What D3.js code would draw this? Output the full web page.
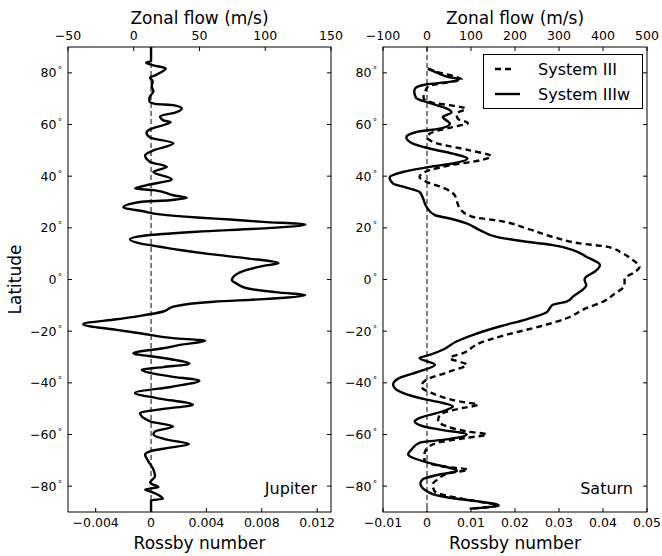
<!DOCTYPE html>
<html>
<head>
<meta charset="utf-8">
<script src="https://cdn.jsdelivr.net/npm/d3@7"></script>
<style>
  body { margin: 0; background: #fff; }
  svg { font-family: "DejaVu Sans", sans-serif; }
</style>
</head>
<body>
<svg id="chart" width="662" height="556"></svg>
<script>
// Jupiter zonal profile expressed as Rossby number vs latitude
const jupiterLat = [90, 84.5, 83.9, 82.9, 81.7, 80.0, 79.3, 78.1, 76.8, 74.8, 72.9, 70.3, 69.0, 68.0, 67.5, 66.2, 64.6, 63.2, 61.6, 61.0, 60.0,
  58.1, 56.8, 55.0, 52.7, 50.0, 48.1, 45.5, 43.6, 41.6, 38.8, 36.5, 35.2, 34.6, 32.6, 31.6, 30.7, 30.0, 27.9, 26.4, 25.2, 24.0, 23.2, 22.3, 21.3,
  19.8, 18.5, 17.2, 15.5, 14.0, 12.7, 11.4, 9.8, 8.2, 6.3, 5.3, 3.7, 1.7, -0.2, -1.7, -3.4, -5.1, -6.0, -7.6, -8.6, -10.5, -12.4, -14.1, -15.4,
  -17.3, -19.5, -20.8, -22.7, -23.7, -25.3, -26.6, -28.5, -30.4, -32.6, -33.9, -34.9, -37.5, -39.2, -41.4, -43.9, -45.9, -48.5, -50.1, -51.7,
  -54.9, -56.9, -58.8, -60.0, -62.0, -63.7, -65.2, -66.5, -67.8, -70.3, -73.6, -76.1, -78.7, -80.4, -81.3, -82.5, -84.9, -85.5, -90];
const jupiterRo = [0, 0, -0.00036, 0.00017, 0.00106, 0.00065, 0.00041, -0.00007, 0.00012, 0.00005, 0.00017, -0.00012, -0.00012, 0.00029, 0.00161, 0.00222, 0.00174, 0.00065, 0.00089, 0.00141, 0.00101,
  -0.00007, -0.00033, -0.00007, 0.00161, 0.00017, -0.00043, -0.00007, 0.00114, 0.00017, 0.0015, -0.00031, -0.00116, 0.00017, 0.00161, 0.00258, 0.00137, -0.0008, -0.002, -0.00056, 0.00065, 0.00331, 0.00571, 0.00812, 0.01114,
  0.00812, 0.00331, -0.00007, -0.00152, -0.0008, 0.00065, 0.0021, 0.00427, 0.00692, 0.00921, 0.00812, 0.00692, 0.00608, 0.00584, 0.00622, 0.00692, 0.00933, 0.01114, 0.00812, 0.00451, 0.00161, 0.00089, -0.0008, -0.00248,
  -0.0049, -0.00248, -0.0008, 0.00161, 0.00391, 0.0021, 0.00089, -0.00128, 0.00089, 0.00277, 0.00089, -0.00067, 0.00137, 0.00349, 0.00161, -0.00116, 0.00041, 0.00302, 0.00089, -0.0008,
  -0.00007, 0.00159, 0.00029, 0.00017, 0.00114, 0.00275, 0.00123, -0.00007, -0.00043, -0.0002, 0.00017, 0.00029, -0.00007, 0.00053, -0.00043, 0.00017, 0.00085, 0, 0];

// Saturn, System IIIw
const saturnLatIIIw = [81.5, 80.1, 78.3, 77.6, 76.5, 75.5, 74.1, 72.9, 70.3, 68.4, 66.5, 64.7, 62.9, 60.3, 58.4, 57.1, 55.1, 52.6, 50.7, 48.7, 46.8,
  44.9, 43.6, 41.6, 39.5, 37.1, 35.6, 33.9, 31.4, 28.1, 24.9, 23.6, 21.7, 19.1, 16.5, 14.6, 13.3, 11.4, 8.8, 5.6, 3.0, 1.1, -0.2, -2.1, -6.6,
  -8.6, -9.8, -11.1, -12.8, -15.4, -18.2, -21.4, -24.0, -27.2, -29.2, -30.4, -33.0, -35.6, -38.1, -40.7, -43.9, -46.5, -47.8, -49.1, -51.0,
  -53.6, -54.9, -56.8, -58.1, -60.0, -62.0, -63.2, -65.8, -67.6, -69.0, -71.0, -74.2, -75.5, -77.4, -79.0, -82.5, -84.5, -85.8, -87.5, -88.3, -88.7];
const saturnRoIIIw = [0.0002, 0.0022, 0.0051, 0.0074, 0.0051, -0.0002, -0.0026, -0.0029, -0.0025, 0.0005, 0.004, 0.0056, 0.0036, 0.0052, 0.0029, -0.0024, -0.0047, -0.0032, 0.0006, 0.0059, 0.0092,
  0.0059, 0.0006, -0.0055, -0.0085, -0.0077, -0.0047, -0.0017, -0.0009, -0.0001, 0.0018, 0.0052, 0.009, 0.012, 0.0158, 0.0226, 0.0286, 0.0332, 0.0362, 0.0393, 0.0381, 0.0362, 0.0358, 0.0362, 0.0332,
  0.0317, 0.0286, 0.0279, 0.0271, 0.0226, 0.0165, 0.0105, 0.0067, 0.0036, 0.0006, -0.0017, 0.0018, -0.0017, -0.0062, -0.0077, -0.0055, -0.0001, 0.0036, 0.0059, 0.0036,
  -0.0017, -0.0028, -0.0009, 0.0029, 0.009, 0.004, -0.0017, -0.0035, -0.0043, -0.0032, 0.0005, 0.0068, 0.0028, -0.001, -0.0015, 0.0005, 0.0051, 0.0111, 0.0163, 0.0127, 0.0097];

// Saturn, System III
const saturnLatIII = [81.7, 80.1, 78.6, 77.4, 76.3, 74.7, 72.4, 70.3, 68.4, 67.4, 66.1, 64.2, 62.2, 60.6, 59.0, 57.1, 55.1, 52.8, 50.0, 47.7, 46.1,
  44.2, 42.3, 39.7, 37.8, 35.6, 32.6, 30.7, 26.8, 24.2, 22.7, 19.8, 16.5, 14.0, 12.7, 10.1, 7.5, 4.9, 2.4, 0.5, -2.1, -6.0, -8.6, -11.1, -15.0,
  -18.2, -21.4, -24.6, -28.5, -30.4, -33.0, -35.6, -38.8, -41.4, -43.9, -47.2, -48.5, -49.7, -52.3, -54.9, -56.8, -58.8, -60.0, -61.3, -63.2,
  -65.8, -67.8, -69.7, -72.3, -73.6, -74.9, -77.4, -79.3, -81.9, -83.9, -85.8, -87.5, -88.3, -88.7];
const saturnRoIII = [0.0002, 0.0029, 0.0063, 0.0079, 0.0047, 0.0002, -0.0005, -0.0008, 0.0013, 0.0055, 0.0088, 0.0067, 0.007, 0.0093, 0.0059, 0.0014, 0.0, 0.0021, 0.0097, 0.0146, 0.012,
  0.0052, 0.0006, -0.0017, -0.0001, 0.0036, 0.0063, 0.0067, 0.0078, 0.0105, 0.0165, 0.0226, 0.0286, 0.0347, 0.0408, 0.0445, 0.0468, 0.0483, 0.0468, 0.0449, 0.0449, 0.0423, 0.04, 0.0362, 0.0317,
  0.0256, 0.018, 0.012, 0.0082, 0.0052, 0.009, 0.0052, -0.0001, -0.0013, 0.001, 0.0074, 0.0116, 0.0082, 0.0029, 0.0025, 0.0044, 0.009, 0.0136, 0.009, 0.0024,
  -0.0002, -0.0006, -0.0006, 0.0032, 0.0093, 0.0051, 0.0024, 0.0013, 0.0017, 0.0051, 0.0111, 0.0163, 0.0127, 0.0097];

const latTicks = [80, 60, 40, 20, 0, -20, -40, -60, -80];
const jupiterRoTicks = [-0.004, 0, 0.004, 0.008, 0.012];
const jupiterFlowTicks = [-50, 0, 50, 100, 150];
const saturnRoTicks = [-0.01, 0, 0.01, 0.02, 0.03, 0.04, 0.05];
const saturnFlowTicks = [-100, 0, 100, 200, 300, 400, 500];

const svg = d3.select("#chart");
const plotTop = 47, plotBottom = 512;
const minus = s => s.replace("-", "\u2212");

const y = d3.scaleLinear().domain([-90, 90]).range([plotBottom, plotTop]);

function drawPanel(cfg) {
    const g = svg.append("g");
    const x = d3.scaleLinear().domain(cfg.roDomain).range([cfg.x0, cfg.x1]);
    const xTop = d3.scaleLinear().domain(cfg.flowDomain).range([cfg.x0, cfg.x1]);

    const clipId = "clip-" + cfg.name;
    svg.append("clipPath").attr("id", clipId)
        .append("rect")
        .attr("x", cfg.x0).attr("y", plotTop)
        .attr("width", cfg.x1 - cfg.x0).attr("height", plotBottom - plotTop);

    // zero Rossby reference line
    g.append("line")
        .attr("x1", x(0)).attr("x2", x(0))
        .attr("y1", plotTop).attr("y2", plotBottom)
        .attr("stroke", "#000").attr("stroke-width", 1)
        .attr("stroke-dasharray", "5,3");

    const line = d3.line()
        .x(d => x(d[1]))
        .y(d => y(d[0]))
        .curve(d3.curveMonotoneY);

    cfg.series.forEach(s => {
        g.append("path")
            .datum(d3.zip(s.lat, s.ro))
            .attr("clip-path", `url(#${clipId})`)
            .attr("d", line)
            .attr("fill", "none")
            .attr("stroke", "#000")
            .attr("stroke-width", 2.4)
            .attr("stroke-linejoin", "round")
            .attr("stroke-dasharray", s.dash || null);
    });

    // frame
    g.append("rect")
        .attr("x", cfg.x0).attr("y", plotTop)
        .attr("width", cfg.x1 - cfg.x0).attr("height", plotBottom - plotTop)
        .attr("fill", "none").attr("stroke", "#000").attr("stroke-width", 1);

    // inward ticks
    const tickLen = 4;
    cfg.roTicks.forEach(t => {
        g.append("line").attr("x1", x(t)).attr("x2", x(t))
            .attr("y1", plotBottom).attr("y2", plotBottom - tickLen).attr("stroke", "#000");
        g.append("text").attr("x", x(t)).attr("y", 527)
            .attr("text-anchor", "middle").attr("font-size", 12.5)
            .text(t === 0 ? "0" : minus(String(t)));
    });
    cfg.flowTicks.forEach(t => {
        g.append("line").attr("x1", xTop(t)).attr("x2", xTop(t))
            .attr("y1", plotTop).attr("y2", plotTop + tickLen).attr("stroke", "#000");
        g.append("text").attr("x", xTop(t)).attr("y", 40)
            .attr("text-anchor", "middle").attr("font-size", 12.5)
            .text(minus(String(t)));
    });
    latTicks.forEach(t => {
        g.append("line").attr("x1", cfg.x0).attr("x2", cfg.x0 + tickLen)
            .attr("y1", y(t)).attr("y2", y(t)).attr("stroke", "#000");
        g.append("line").attr("x1", cfg.x1).attr("x2", cfg.x1 - tickLen)
            .attr("y1", y(t)).attr("y2", y(t)).attr("stroke", "#000");
        const lab = g.append("text").attr("x", cfg.x0 - 6).attr("y", y(t) + 4.5)
            .attr("text-anchor", "end").attr("font-size", 12.5);
        lab.append("tspan").text(minus(String(t)));
        lab.append("tspan").attr("font-size", 8).attr("dy", -4).attr("dx", 1.5).text("\u00b0");
    });

    g.append("text").attr("x", (cfg.x0 + cfg.x1) / 2).attr("y", 24)
        .attr("text-anchor", "middle").attr("font-size", 17).text("Zonal flow (m/s)");
    g.append("text").attr("x", (cfg.x0 + cfg.x1) / 2).attr("y", 549)
        .attr("text-anchor", "middle").attr("font-size", 17).text("Rossby number");
    g.append("text").attr("x", cfg.x1 - 14).attr("y", 494)
        .attr("text-anchor", "end").attr("font-size", 16).text(cfg.name);
}

drawPanel({
    name: "Jupiter", x0: 68, x1: 331,
    roDomain: [-0.006, 0.013], flowDomain: [-50, 150],
    roTicks: jupiterRoTicks, flowTicks: jupiterFlowTicks,
    series: [{ lat: jupiterLat, ro: jupiterRo }]
});

drawPanel({
    name: "Saturn", x0: 383, x1: 647,
    roDomain: [-0.01, 0.05], flowDomain: [-100, 500],
    roTicks: saturnRoTicks, flowTicks: saturnFlowTicks,
    series: [
        { lat: saturnLatIII, ro: saturnRoIII, dash: "6,4" },
        { lat: saturnLatIIIw, ro: saturnRoIIIw }
    ]
});

svg.append("text")
    .attr("transform", "translate(21, 279.5) rotate(-90)")
    .attr("text-anchor", "middle").attr("font-size", 17).text("Latitude");

// legend
const legend = svg.append("g");
legend.append("rect").attr("x", 483.5).attr("y", 54.5).attr("width", 159).attr("height", 54)
    .attr("fill", "#fff").attr("stroke", "#000").attr("stroke-width", 1);
[{ label: "System III", dash: "6,4", len: 17 }, { label: "System IIIw", dash: null, len: 25 }].forEach((d, i) => {
    const ly = 69 + i * 25;
    legend.append("line").attr("x1", 495).attr("x2", 495 + d.len)
        .attr("y1", ly).attr("y2", ly)
        .attr("stroke", "#000").attr("stroke-width", 2.4)
        .attr("stroke-dasharray", d.dash);
    legend.append("text").attr("x", 538).attr("y", ly + 5.5)
        .attr("font-size", 16).text(d.label);
});
</script>
</body>
</html>
